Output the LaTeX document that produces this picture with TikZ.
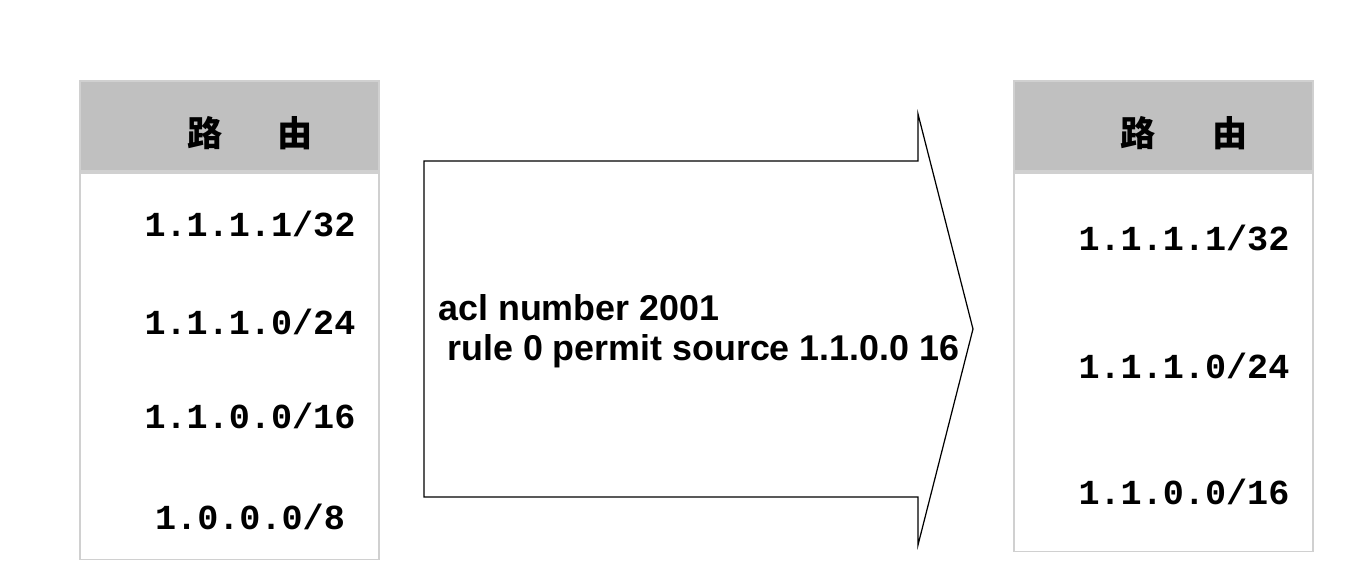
\documentclass[tikz,border=0pt]{standalone}
\usepackage{fontspec}
\setmainfont{Liberation Sans}
\newfontfamily\monofont{Liberation Mono}
\newfontfamily\cjk{Noto Sans CJK SC}
\usetikzlibrary{positioning}
\definecolor{hdrgray}{HTML}{C0C0C0}
\definecolor{rimgray}{HTML}{D0D0D0}

\begin{document}
\begin{tikzpicture}[
  x=0.02cm, y=-0.02cm,
  head/.style={rectangle, draw=rimgray, fill=hdrgray, line width=1pt, minimum width=5.98cm, minimum height=1.8cm, inner sep=0pt},
  body/.style={rectangle, draw=rimgray, fill=white, line width=1pt, minimum width=5.98cm, inner sep=0pt},
  title/.style={font=\cjk\bfseries\fontsize{20}{22}\selectfont},
  route/.style={font=\monofont\bfseries\fontsize{20}{22}\selectfont},
  cmd/.style={font=\bfseries\fontsize{20.4}{22}\selectfont, anchor=base west, inner sep=0pt},
]
  \useasboundingbox (0,0) rectangle (1347,582);
  % Left routing table: header + 4 prefixes
  \node[head, anchor=north west] (Lhead) at (79,80) {};
  \node[body, minimum height=7.74cm, below=0pt of Lhead] (Lbody) {};
  \node[title] (Lt1) at (205,133) {路};
  \node[title] (Lt2) at (295,133) {由};
  \foreach \y/\a/\b [count=\i] in {224/1.1.1.1/32, 322/1.1.1.0/24, 416/1.1.0.0/16, 517/1.0.0.0/8}
    \node[route] (L\i) at (250,\y) {\a/\b};
  % Right routing table: header + 3 prefixes
  \node[head, anchor=north west] (Rhead) at (1013,80) {};
  \node[body, minimum height=7.58cm, below=0pt of Rhead] (Rbody) {};
  \node[title] (Rt1) at (1138,133) {路};
  \node[title] (Rt2) at (1230,133) {由};
  \foreach \y/\a/\b [count=\i] in {238/1.1.1.1/32, 366/1.1.1.0/24, 492/1.1.0.0/16}
    \node[route] (R\i) at (1184,\y) {\a/\b};
  % Big arrow with the ACL config inside
  \draw[line width=0.7pt] (424,161) -- (918,161) -- (918,114) -- (973,329)
    -- (918,545) -- (918,497) -- (424,497) -- cycle;
  \node[cmd] (acl)  at (438,320) {acl number 2001};
  \node[cmd] (rule) at (447,360) {rule 0 permit source 1.1.0.0 16};
\end{tikzpicture}
\end{document}
